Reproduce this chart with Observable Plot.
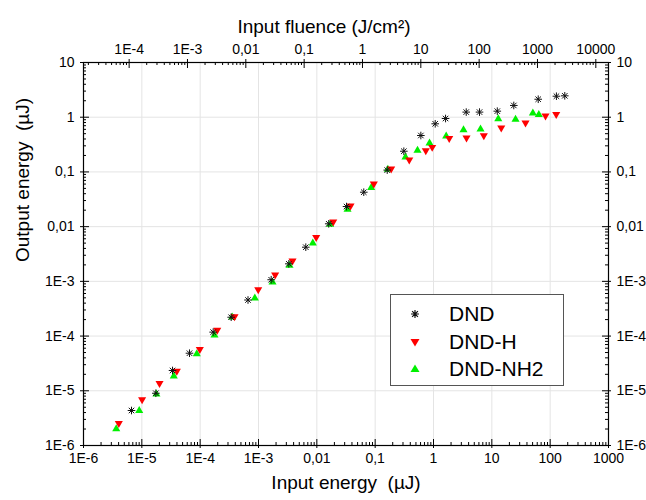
<!DOCTYPE html>
<html><head><meta charset="utf-8">
<script src="https://cdn.jsdelivr.net/npm/d3@7"></script>
<script src="https://cdn.jsdelivr.net/npm/@observablehq/plot@0.6"></script>
<style>
body{margin:0;background:#fff;font-family:"Liberation Sans",Arial,sans-serif;}
#wrap{position:relative;width:646px;height:500px;}
#legend{position:absolute;left:390px;top:294px;width:174px;height:92px;border:1.5px solid #555;background:#fff;box-sizing:border-box;}
.item{position:absolute;left:0;display:flex;align-items:center;font-size:21px;color:#000;height:26px;}
.item svg{position:absolute;left:18px;}
.item span{position:absolute;left:58px;white-space:nowrap;line-height:26px;}
</style></head><body><div id="wrap"><div id="legend"></div></div>
<script>
// ---- data (input energy µJ, output energy µJ) ----
const seriesNames = ["DND", "DND-H", "DND-NH2"];
const dndX = [6.65e-6, 1.74e-5, 3.36e-5, 6.56e-5, 1.67e-4, 3.40e-4, 6.61e-4, 1.65e-3, 3.31e-3, 6.47e-3, 0.0160, 0.0323, 0.0638, 0.161, 0.310, 0.607, 1.07, 1.61, 3.64, 6.15, 12.4, 23.8, 62.4, 128, 178];
const dndY = [4.36e-6, 9.02e-6, 2.35e-5, 4.86e-5, 1.18e-4, 2.21e-4, 4.56e-4, 1.07e-3, 2.09e-3, 4.21e-3, 0.01127, 0.0233, 0.0426, 0.108, 0.239, 0.463, 0.758, 0.947, 1.24, 1.24, 1.29, 1.64, 2.13, 2.42, 2.46];
const dndHX = [4.03e-6, 1.01e-5, 2.01e-5, 3.98e-5, 9.86e-5, 1.96e-4, 3.88e-4, 9.89e-4, 1.93e-3, 3.83e-3, 9.75e-3, 0.0191, 0.0378, 0.0948, 0.188, 0.384, 0.738, 0.95, 1.86, 3.68, 7.29, 14.5, 37.8, 83.2, 127];
const dndHY = [2.55e-6, 6.92e-6, 1.37e-5, 2.28e-5, 5.75e-5, 1.28e-4, 2.28e-4, 7.10e-4, 1.32e-3, 2.37e-3, 6.41e-3, 0.01225, 0.0240, 0.0607, 0.114, 0.167, 0.246, 0.283, 0.413, 0.421, 0.463, 0.640, 0.790, 1.06, 1.13];
const dndNH2X = [3.64e-6, 9.02e-6, 1.78e-5, 3.53e-5, 8.75e-5, 1.76e-4, 3.54e-4, 8.65e-4, 1.74e-3, 3.40e-3, 8.53e-3, 0.0169, 0.0336, 0.0855, 0.165, 0.331, 0.532, 0.855, 1.65, 3.27, 6.40, 12.9, 25.5, 50.5, 63.9];
const dndNH2Y = [2.02e-6, 4.31e-6, 8.65e-6, 1.85e-5, 4.74e-5, 1.04e-4, 2.21e-4, 4.92e-4, 9.64e-4, 1.95e-3, 4.98e-3, 0.01094, 0.0206, 0.0513, 0.111, 0.186, 0.246, 0.335, 0.450, 0.589, 0.604, 0.935, 0.908, 1.18, 1.11];

// ---- axes ----
const xTickValues = [1e-6, 1e-5, 1e-4, 1e-3, 1e-2, 1e-1, 1, 10, 100, 1000];
const xTickLabels = ["1E-6", "1E-5", "1E-4", "1E-3", "0,01", "0,1", "1", "10", "100", "1000"];
const yTickValues = [1e-6, 1e-5, 1e-4, 1e-3, 1e-2, 1e-1, 1, 10];
const yTickLabels = ["1E-6", "1E-5", "1E-4", "1E-3", "0,01", "0,1", "1", "10"];
const fluenceTickValues = [1e-4, 1e-3, 1e-2, 1e-1, 1, 10, 100, 1000, 10000];
const fluenceTickLabels = ["1E-4", "1E-3", "0,01", "0,1", "1", "10", "100", "1000", "10000"];
const fluencePerEnergy = 16.5; // J/cm² per µJ

const xTitle = "Input energy  (µJ)";
const yTitle = "Output energy  (µJ)";
const topTitle = "Input fluence (J/cm²)";

const colors = {"DND": "#111", "DND-H": "#ff0000", "DND-NH2": "#00f000"};

const W = 646, H = 500, mL = 83, mR = 38, mT = 62, mB = 55;
const iw = W - mL - mR, ih = H - mT - mB;

const mk = (xs, ys, s) => xs.map((x, i) => ({x, y: ys[i], s}));
const dnd = mk(dndX, dndY, "DND");
const dndH = mk(dndHX, dndHY, "DND-H");
const dndNH2 = mk(dndNH2X, dndNH2Y, "DND-NH2");

const asterisk = {draw(ctx, size) {
  const r = Math.sqrt(size / Math.PI), d = r * 0.72;
  ctx.moveTo(-r, 0); ctx.lineTo(r, 0);
  ctx.moveTo(0, -r); ctx.lineTo(0, r);
  ctx.moveTo(-d, -d); ctx.lineTo(d, d);
  ctx.moveTo(-d, d); ctx.lineTo(d, -d);
}};

const minorsBetween = (lo, hi) => {
  const out = [];
  for (let e = Math.floor(Math.log10(lo)) - 1; e <= Math.ceil(Math.log10(hi)); e++)
    for (let m = 2; m <= 9; m++) { const v = m * Math.pow(10, e); if (v > lo * 1.0001 && v < hi * 0.9999) out.push(v); }
  return out;
};
const xDom = [xTickValues[0], xTickValues[xTickValues.length - 1]];
const yDom = [yTickValues[0], yTickValues[yTickValues.length - 1]];
const xMinor = minorsBetween(xDom[0], xDom[1]);
const yMinor = minorsBetween(yDom[0], yDom[1]);
const fDom = [xDom[0] * fluencePerEnergy, xDom[1] * fluencePerEnergy];
const fMinor = minorsBetween(fDom[0], fDom[1]).map(f => f / fluencePerEnergy);
const fMajor = fluenceTickValues.map((f, i) => ({e: f / fluencePerEnergy, label: fluenceTickLabels[i]}));
const xLab = xTickValues.map((v, i) => ({v, label: xTickLabels[i]}));
const yLab = yTickValues.map((v, i) => ({v, label: yTickLabels[i]}));

const MAJ = 6, MIN = 3, OUT = 3;
const font = 14;

const chart = Plot.plot({
  width: W, height: H,
  marginLeft: mL, marginRight: mR, marginTop: mT, marginBottom: mB,
  style: {fontFamily: '"Liberation Sans", Arial, sans-serif', background: "#fff"},
  x: {type: "log", domain: xDom, axis: null},
  y: {type: "log", domain: yDom, axis: null},
  marks: [
    Plot.ruleX(xTickValues.slice(1, -1), {stroke: "#e4e4e4", strokeWidth: 1}),
    Plot.ruleY(yTickValues.slice(1, -1), {stroke: "#e4e4e4", strokeWidth: 1}),
    Plot.dot(dndNH2, {x: "x", y: "y", symbol: "triangle", r: 3, fill: colors["DND-NH2"], stroke: "none"}),
    Plot.dot(dndH, {x: "x", y: "y", symbol: "triangle", rotate: 180, r: 3, fill: colors["DND-H"], stroke: "none"}),
    Plot.dot(dnd, {x: "x", y: "y", symbol: asterisk, r: 3.8, fill: "none", stroke: colors["DND"], strokeWidth: 1}),
    // bottom ticks
    Plot.ruleX(xTickValues, {insetTop: ih - MAJ, insetBottom: -OUT, stroke: "#000"}),
    Plot.ruleX(xMinor, {insetTop: ih - MIN, stroke: "#000"}),
    // top ticks (fluence)
    Plot.ruleX(fMajor, {x: "e", insetBottom: ih - MAJ, insetTop: -OUT, stroke: "#000"}),
    Plot.ruleX(fMinor, {insetBottom: ih - MIN, stroke: "#000"}),
    // left ticks
    Plot.ruleY(yTickValues, {insetRight: iw - MAJ, insetLeft: -OUT, stroke: "#000"}),
    Plot.ruleY(yMinor, {insetRight: iw - MIN, stroke: "#000"}),
    // right ticks
    Plot.ruleY(yTickValues, {insetLeft: iw - MAJ, insetRight: -OUT, stroke: "#000"}),
    Plot.ruleY(yMinor, {insetLeft: iw - MIN, stroke: "#000"}),
    Plot.frame({stroke: "#000", strokeWidth: 1.2}),
    // tick labels
    Plot.text(xLab, {x: "v", text: "label", frameAnchor: "bottom", dy: 17, fontSize: font, fill: "#000"}),
    Plot.text(fMajor, {x: "e", text: "label", frameAnchor: "top", dy: -18, fontSize: font, fill: "#000"}),
    Plot.text(yLab, {y: "v", text: "label", frameAnchor: "left", textAnchor: "end", dx: -9, fontSize: font, fill: "#000"}),
    Plot.text(yLab, {y: "v", text: "label", frameAnchor: "right", textAnchor: "start", dx: 8, fontSize: font, fill: "#000"}),
    // titles
    Plot.text([xTitle], {text: d => d, frameAnchor: "bottom", dy: 43, fontSize: 19, fill: "#000"}),
    Plot.text([topTitle], {text: d => d, frameAnchor: "top", dy: -43, dx: -22, fontSize: 19, fill: "#000"}),
    Plot.text([yTitle], {text: d => d, frameAnchor: "left", rotate: -90, dx: -61, dy: 8, fontSize: 19, fill: "#000"})
  ]
});
document.getElementById("wrap").prepend(chart);

// legend
const legend = document.getElementById("legend");
const symSvg = {
  "DND": '<svg width="12" height="12" viewBox="-6 -6 12 12"><path d="M-4,0H4M0,-4V4M-2.9,-2.9L2.9,2.9M-2.9,2.9L2.9,-2.9" stroke="#111" stroke-width="1.2" fill="none"/></svg>',
  "DND-H": '<svg width="12" height="12" viewBox="-6 -6 12 12"><path d="M-4.5,-3H4.5L0,4.5Z" fill="#ff0000"/></svg>',
  "DND-NH2": '<svg width="12" height="12" viewBox="-6 -6 12 12"><path d="M-4.5,3H4.5L0,-4.5Z" fill="#00f000"/></svg>'
};
const rowTops = [6, 34, 61];
seriesNames.forEach((n, i) => {
  const d = document.createElement("div");
  d.className = "item";
  d.style.top = rowTops[i] + "px";
  d.innerHTML = symSvg[n] + "<span>" + n + "</span>";
  legend.appendChild(d);
});
</script></body></html>
